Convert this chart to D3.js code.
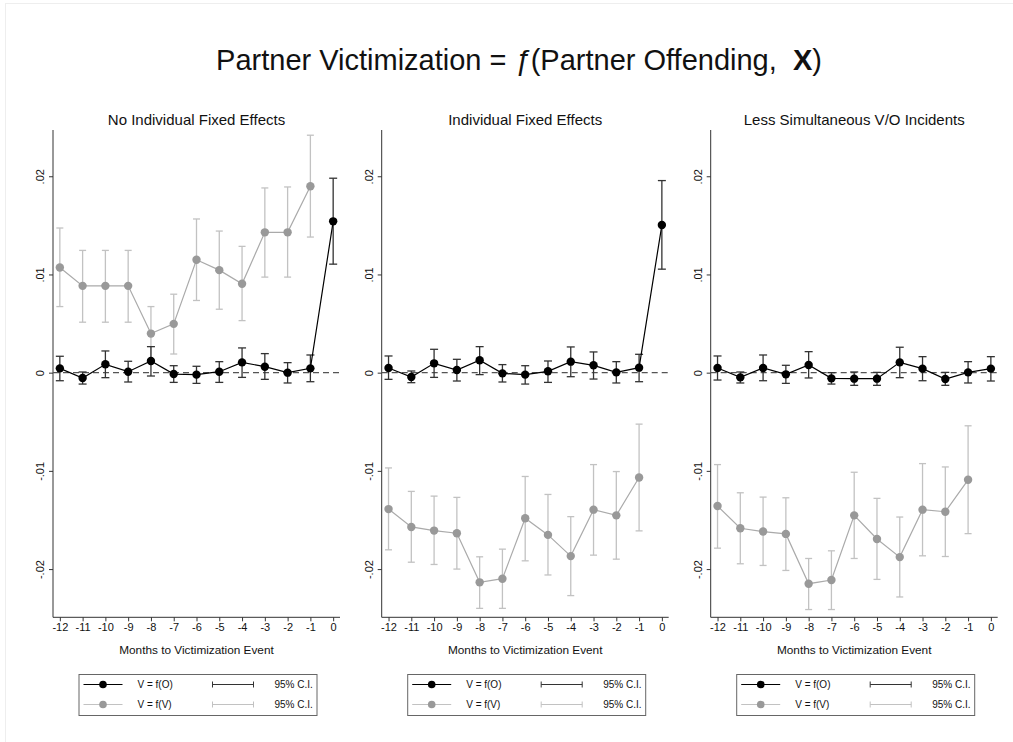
<!DOCTYPE html>
<html>
<head>
<meta charset="utf-8">
<script src="https://cdn.jsdelivr.net/npm/d3@7"></script>
<style>
  body { margin: 0; background: #fff; }
  text { font-family: "Liberation Sans", Arial, sans-serif; fill: #111; }
</style>
</head>
<body>
<div id="chart"></div>
<script>
// months before the victimization event
var months = [-12, -11, -10, -9, -8, -7, -6, -5, -4, -3, -2, -1, 0];
var panelTitles = ["No Individual Fixed Effects", "Individual Fixed Effects", "Less Simultaneous V/O Incidents"];
var yTicks = [-0.02, -0.01, 0, 0.01, 0.02];
var yTickLabels = ["-.02", "-.01", "0", ".01", ".02"];

// V = f(O)  (black) : estimate, upper, lower
var offEst1 = [0.00044, -0.00054, 0.00085, 0.0001, 0.00119, -0.00014, -0.0002, 0.0001, 0.00105, 0.00061, 0, 0.00044, 0.01541];
var offHi1  = [0.00167, 0.00007, 0.00221, 0.00116, 0.00265, 0.00071, 0.00065, 0.00112, 0.00252, 0.00194, 0.00102, 0.0018, 0.0198];
var offLo1  = [-0.00082, -0.00116, -0.00051, -0.00095, -0.00034, -0.00099, -0.00109, -0.00099, -0.00048, -0.00068, -0.00105, -0.00092, 0.01105];

var offEst2 = [0.00048, -0.00044, 0.00095, 0.00027, 0.00126, -0.00007, -0.0002, 0.00014, 0.00112, 0.00075, 0.00003, 0.00051, 0.01503];
var offHi2  = [0.0017, 0.00017, 0.00238, 0.00136, 0.00265, 0.00082, 0.00071, 0.00119, 0.00262, 0.00211, 0.00112, 0.00187, 0.01956];
var offLo2  = [-0.00068, -0.00102, -0.00048, -0.00085, -0.0002, -0.00095, -0.00116, -0.00099, -0.00041, -0.00065, -0.00105, -0.00092, 0.01054];

var offEst3 = [0.00048, -0.00048, 0.00048, -0.00017, 0.00078, -0.00058, -0.00061, -0.00061, 0.00105, 0.00041, -0.00065, 0.00003, 0.00041];
var offHi3  = [0.0017, 0.00007, 0.0018, 0.00075, 0.00214, 0, 0.00007, 0.00003, 0.00259, 0.00163, 0.00003, 0.00112, 0.00163];
var offLo3  = [-0.00075, -0.00105, -0.00082, -0.00109, -0.00054, -0.00116, -0.00129, -0.00129, -0.00051, -0.00082, -0.00129, -0.00105, -0.00085];

// V = f(V)  (gray) : estimate, upper, lower  (no value at month 0)
var vicEst1 = [0.01071, 0.00884, 0.00884, 0.00884, 0.00398, 0.00497, 0.0115, 0.01044, 0.00905, 0.01429, 0.01429, 0.01898];
var vicHi1  = [0.01473, 0.01245, 0.01245, 0.01245, 0.00673, 0.00799, 0.01565, 0.01442, 0.01286, 0.01881, 0.01891, 0.02418];
var vicLo1  = [0.00673, 0.00514, 0.00514, 0.00514, 0.00122, 0.0019, 0.00735, 0.00646, 0.0053, 0.00973, 0.00973, 0.01381];

var vicEst2 = [-0.01389, -0.01571, -0.01608, -0.01635, -0.02135, -0.02098, -0.01483, -0.01652, -0.01868, -0.01395, -0.01453, -0.01068];
var vicHi2  = [-0.0097, -0.01209, -0.01257, -0.0127, -0.01875, -0.01797, -0.01057, -0.0124, -0.01466, -0.00936, -0.01007, -0.00524];
var vicLo2  = [-0.01804, -0.0193, -0.01953, -0.02, -0.024, -0.024, -0.01916, -0.0206, -0.0227, -0.01858, -0.01899, -0.01611];

var vicEst3 = [-0.01358, -0.01584, -0.01618, -0.01642, -0.02149, -0.02111, -0.01453, -0.01693, -0.01878, -0.01395, -0.01416, -0.01091];
var vicHi3  = [-0.00936, -0.01223, -0.01267, -0.01274, -0.01892, -0.01814, -0.01014, -0.0128, -0.0147, -0.00926, -0.0096, -0.00541];
var vicLo3  = [-0.01787, -0.01946, -0.01963, -0.02014, -0.02412, -0.02412, -0.01892, -0.02105, -0.02284, -0.01865, -0.01872, -0.01639];

var legendLabels = ["V = f(O)", "V = f(V)"];
var ciLabel = "95% C.I.";

var offSeries = [[offEst1, offHi1, offLo1], [offEst2, offHi2, offLo2], [offEst3, offHi3, offLo3]];
var vicSeries = [[vicEst1, vicHi1, vicLo1], [vicEst2, vicHi2, vicLo2], [vicEst3, vicHi3, vicLo3]];

var svgWidth = 1013;
var svgHeight = 742;

var svg = d3.select("#chart")
  .append("svg")
  .attr("width", svgWidth)
  .attr("height", svgHeight);

// faint outer frame of the original graph window
svg.append("rect")
  .attr("x", 5.5).attr("y", 3.5)
  .attr("width", 1020).attr("height", 760)
  .attr("fill", "none")
  .attr("stroke", "#eee");

// main title
var title = svg.append("text")
  .attr("x", 519)
  .attr("y", 70)
  .attr("text-anchor", "middle")
  .attr("font-size", "29px")
  .style("white-space", "pre");
title.append("tspan").text("Partner Victimization = ");
title.append("tspan").attr("font-style", "italic").text("\u0192");
title.append("tspan").text("(Partner Offending,\u00a0 ");
title.append("tspan").attr("font-weight", "bold").text("X");
title.append("tspan").text(")");

var plotW = 287;
var plotTop = 130;
var plotBottom = 617.3;
var panelLeft = [53, 381.7, 710.7];

var x = d3.scaleLinear().domain([-12.3, 0.3]).range([0, plotW]);
var y = d3.scaleLinear().domain([-0.02491, 0.02471]).range([plotBottom - plotTop, 0]);

var blackCol = "#000";
var blackCI = "#333";
var grayCol = "#999";
var grayLine = "#aaa";
var grayCI = "#c2c2c2";

panelLeft.forEach(function(left, p) {
  var g = svg.append("g").attr("transform", `translate(${left}, ${plotTop})`);

  // panel title
  g.append("text")
    .attr("x", plotW / 2)
    .attr("y", -5)
    .attr("text-anchor", "middle")
    .attr("font-size", "15px")
    .text(panelTitles[p]);

  // y axis
  var leftAxis = d3.axisLeft(y)
    .tickValues(yTicks)
    .tickSize(4)
    .tickFormat(function(d, i) { return yTickLabels[i]; });
  var yAxisG = g.append("g").call(leftAxis);
  yAxisG.select(".domain").attr("d", `M0,0V${plotBottom - plotTop}`).attr("stroke", "#333");
  yAxisG.selectAll(".tick line").attr("stroke", "#333");
  yAxisG.selectAll(".tick text")
    .attr("font-size", "11px")
    .attr("font-family", "Liberation Sans, Arial, sans-serif")
    .attr("fill", "#222")
    .attr("x", null).attr("dy", null)
    .attr("text-anchor", "middle")
    .attr("transform", "translate(-9,0) rotate(-90)");

  // x axis
  var bottomAxis = d3.axisBottom(x).tickValues(months).tickSize(4).tickFormat(d => String(d));
  var xAxisG = g.append("g")
    .attr("transform", `translate(0, ${plotBottom - plotTop})`)
    .call(bottomAxis);
  xAxisG.select(".domain").attr("d", `M0,0H${plotW}`).attr("stroke", "#333");
  xAxisG.selectAll(".tick line").attr("stroke", "#333");
  xAxisG.selectAll(".tick text")
    .attr("font-size", "11px")
    .attr("font-family", "Liberation Sans, Arial, sans-serif")
    .attr("fill", "#222")
    .attr("dy", "0.6em");

  g.append("text")
    .attr("x", plotW / 2)
    .attr("y", plotBottom - plotTop + 37)
    .attr("text-anchor", "middle")
    .attr("font-size", "11.8px")
    .text("Months to Victimization Event");

  // zero reference line
  g.append("line")
    .attr("x1", 0).attr("x2", plotW)
    .attr("y1", y(0)).attr("y2", y(0))
    .attr("stroke", "#555")
    .attr("stroke-width", 1.3)
    .attr("stroke-dasharray", "6,4");

  function drawSeries(series, lineCol, ciCol, dotCol, cap) {
    var est = series[0], hi = series[1], lo = series[2];
    var pts = est.map(function(v, i) { return { m: months[i], v: v, hi: hi[i], lo: lo[i] }; });

    var ci = g.append("g");
    pts.forEach(function(d) {
      ci.append("line").attr("x1", x(d.m)).attr("x2", x(d.m)).attr("y1", y(d.hi)).attr("y2", y(d.lo))
        .attr("stroke", ciCol).attr("stroke-width", 1.3);
      ci.append("line").attr("x1", x(d.m) - cap).attr("x2", x(d.m) + cap).attr("y1", y(d.hi)).attr("y2", y(d.hi))
        .attr("stroke", ciCol).attr("stroke-width", 1.3);
      ci.append("line").attr("x1", x(d.m) - cap).attr("x2", x(d.m) + cap).attr("y1", y(d.lo)).attr("y2", y(d.lo))
        .attr("stroke", ciCol).attr("stroke-width", 1.3);
    });

    var line = d3.line().x(d => x(d.m)).y(d => y(d.v));
    g.append("path").datum(pts)
      .attr("d", line)
      .attr("fill", "none")
      .attr("stroke", lineCol)
      .attr("stroke-width", 1.2);

    g.selectAll(null).data(pts).enter()
      .append("circle")
      .attr("cx", d => x(d.m))
      .attr("cy", d => y(d.v))
      .attr("r", 4.2)
      .attr("fill", dotCol);
  }

  drawSeries(vicSeries[p], grayLine, grayCI, grayCol, 3.5);
  drawSeries(offSeries[p], blackCol, blackCI, blackCol, 4);

  // legend
  var lw = 238, lh = 41;
  var lg = g.append("g").attr("transform", `translate(${plotW / 2 - lw / 2 + 1}, ${674 - plotTop})`);
  lg.append("rect").attr("x", 0.5).attr("y", 0.5).attr("width", lw).attr("height", lh)
    .attr("fill", "#fff").attr("stroke", "#666");

  var rows = [
    { label: legendLabels[0], line: blackCol, dot: blackCol, ci: blackCI },
    { label: legendLabels[1], line: grayCI, dot: grayCol, ci: grayCI }
  ];
  rows.forEach(function(r, i) {
    var ry = 10.5 + i * 20;
    lg.append("line").attr("x1", 5).attr("x2", 44).attr("y1", ry).attr("y2", ry)
      .attr("stroke", r.line).attr("stroke-width", 1.2);
    lg.append("circle").attr("cx", 24.5).attr("cy", ry).attr("r", 3.8).attr("fill", r.dot);
    lg.append("text").attr("x", 59).attr("y", ry + 3.5).attr("font-size", "10px").text(r.label);
    lg.append("line").attr("x1", 134).attr("x2", 175).attr("y1", ry).attr("y2", ry)
      .attr("stroke", r.ci).attr("stroke-width", 1.2);
    lg.append("line").attr("x1", 134).attr("x2", 134).attr("y1", ry - 3).attr("y2", ry + 3)
      .attr("stroke", r.ci).attr("stroke-width", 1);
    lg.append("line").attr("x1", 175).attr("x2", 175).attr("y1", ry - 3).attr("y2", ry + 3)
      .attr("stroke", r.ci).attr("stroke-width", 1);
    lg.append("text").attr("x", 196).attr("y", ry + 3.5).attr("font-size", "10px").text(ciLabel);
  });
});
</script>
</body>
</html>
